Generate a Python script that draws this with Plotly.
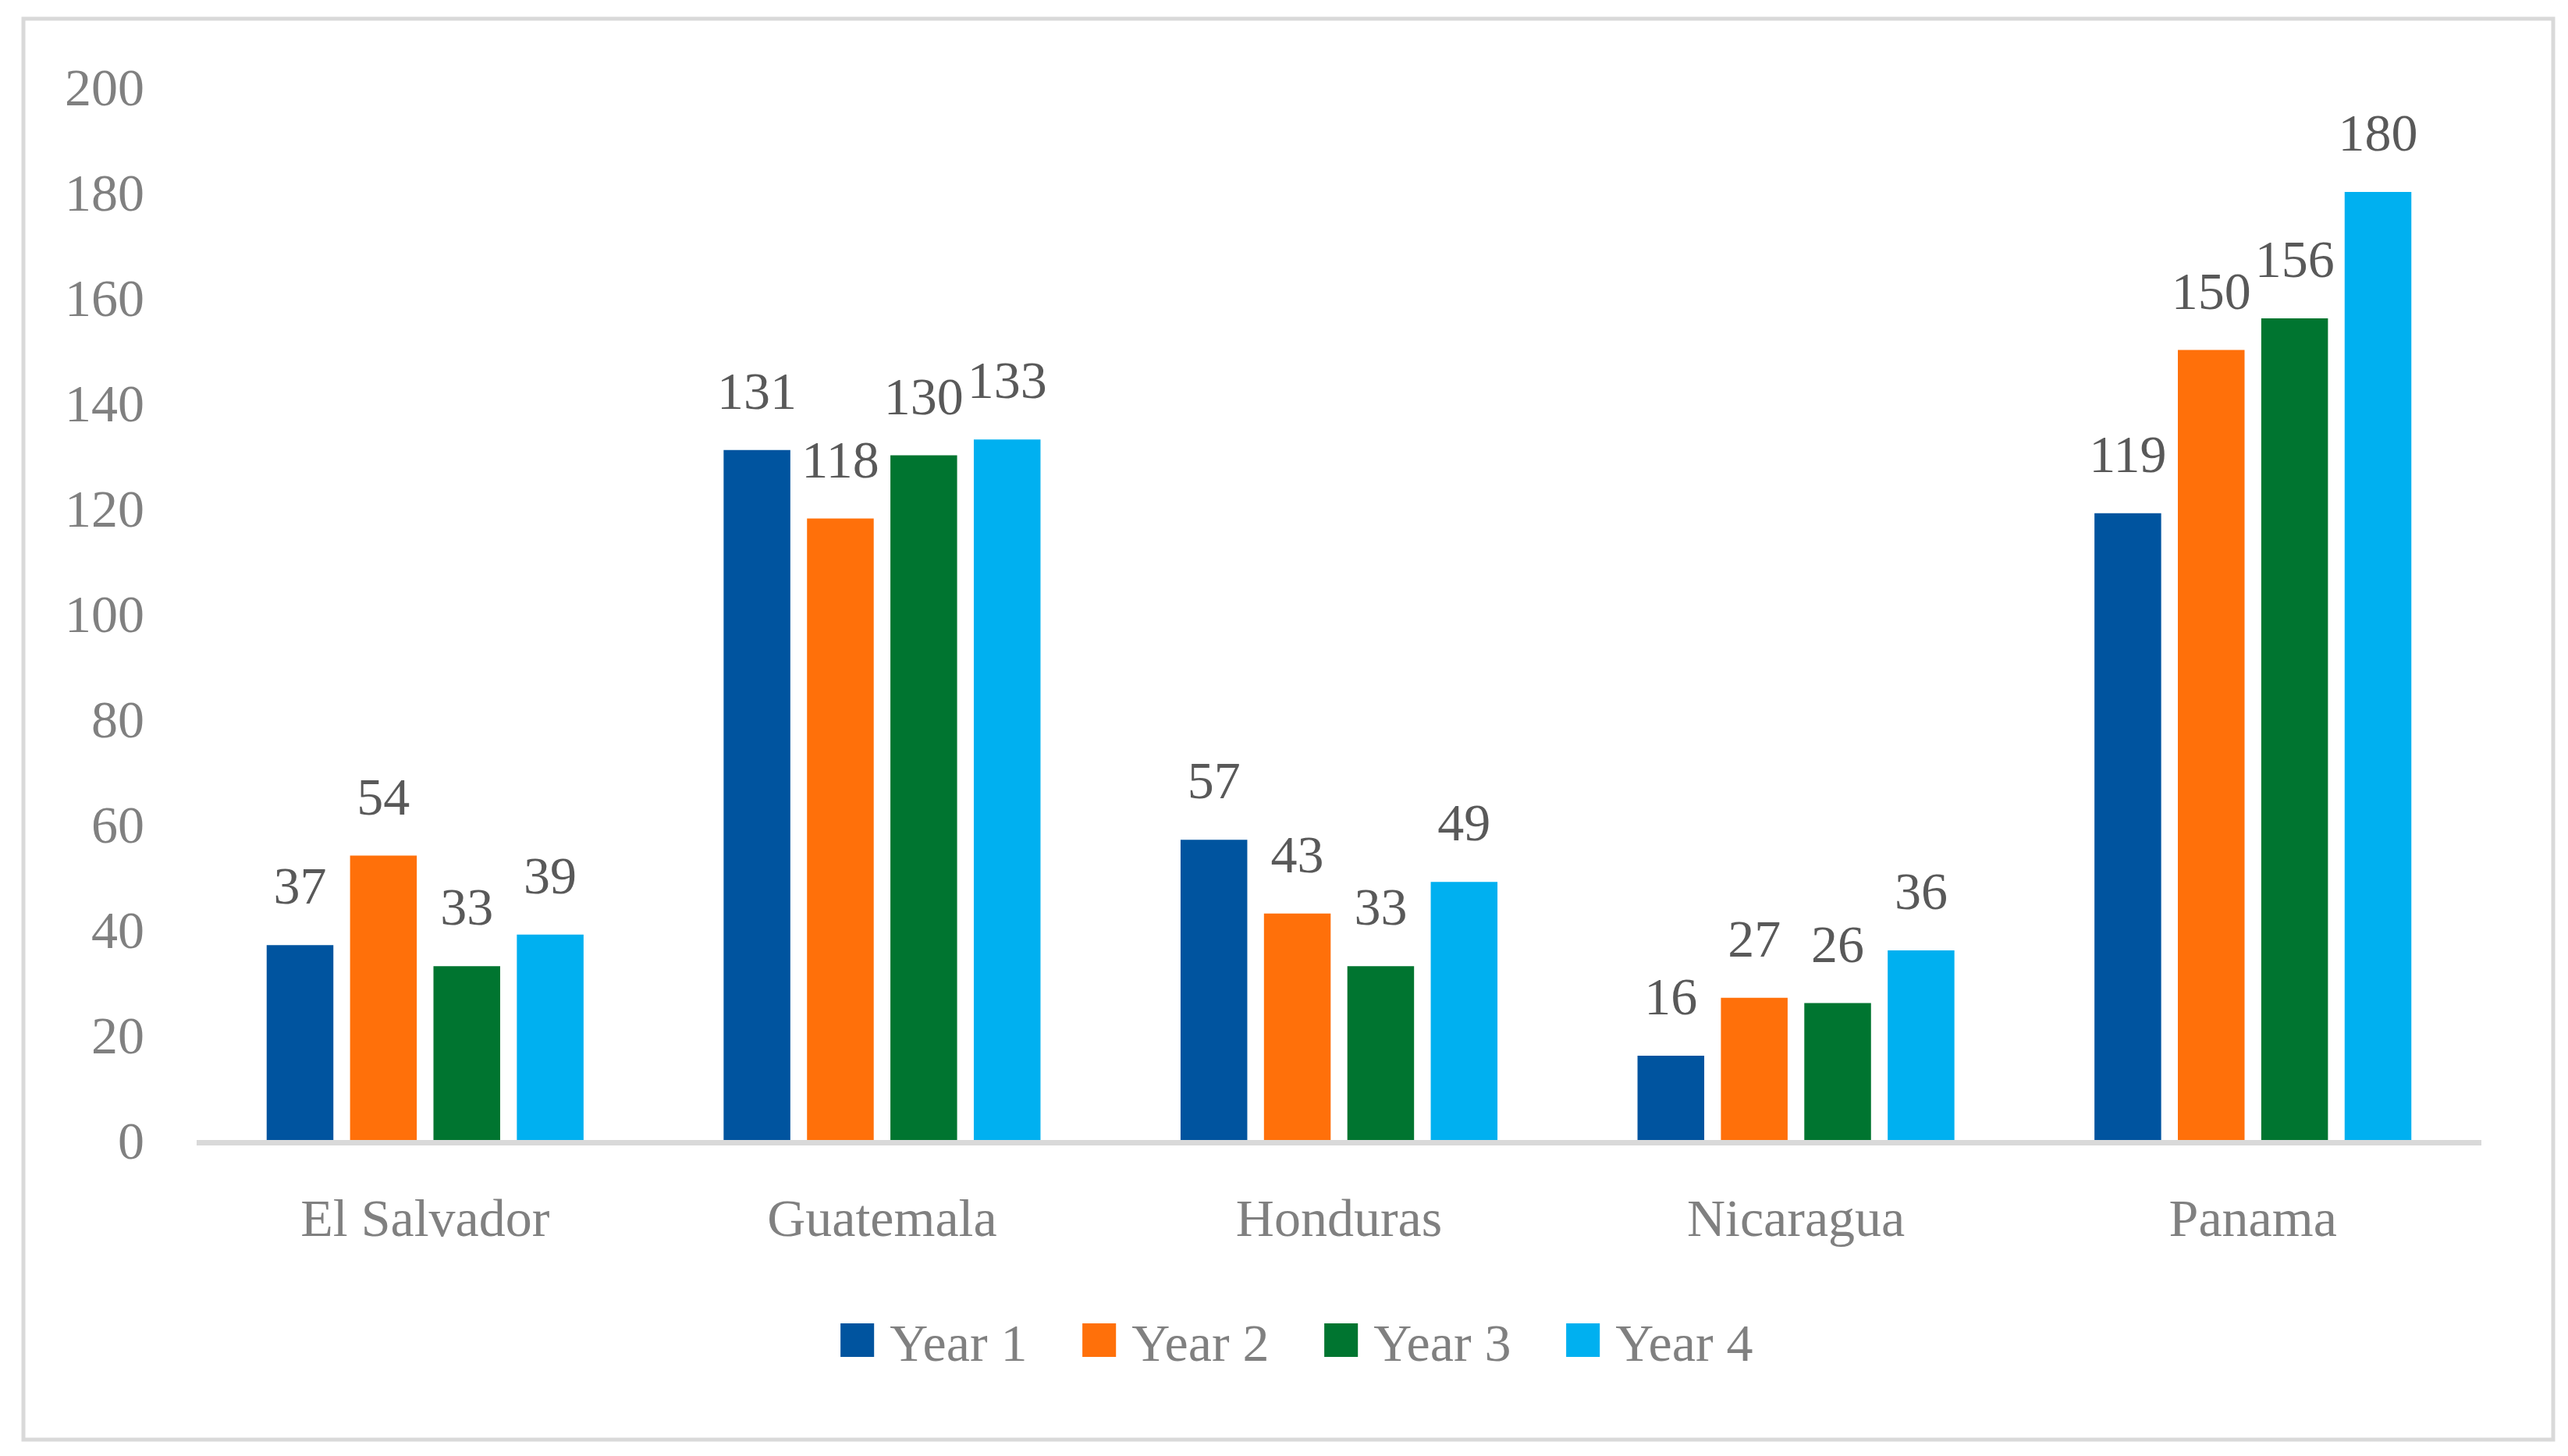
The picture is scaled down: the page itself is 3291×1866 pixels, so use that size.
import plotly.graph_objects as go

# ---- data ----
countries = ["El Salvador", "Guatemala", "Honduras", "Nicaragua", "Panama"]
series_names = ["Year 1", "Year 2", "Year 3", "Year 4"]
year1 = [37, 131, 57, 16, 119]
year2 = [54, 118, 43, 27, 150]
year3 = [33, 130, 33, 26, 156]
year4 = [39, 133, 49, 36, 180]
y_ticks = [0, 20, 40, 60, 80, 100, 120, 140, 160, 180, 200]

series_values = [year1, year2, year3, year4]
colors = ["#00549F", "#FF700A", "#007530", "#00B0F0"]

# ---- layout geometry (pixels, in page coordinates) ----
PAGE_W, PAGE_H = 3291, 1866
BODY = 8  # default body margin of the page
W, H = PAGE_W - 2 * BODY, PAGE_H - 2 * BODY
PLOT_L, PLOT_R, PLOT_T, PLOT_B = 252, 3180, 111, 1461  # plot area on page
ML = PLOT_L - BODY
MT = PLOT_T - BODY
MR = W - (PLOT_R - BODY)
MB = H - (PLOT_B - BODY)
PW = PLOT_R - PLOT_L
PH = PLOT_B - PLOT_T


def px_x(px):
    return (px - PLOT_L) / PW


def px_y(py):
    return (PLOT_B - py) / PH


FONT = "Liberation Serif, serif"
FS = 68

fig = go.Figure()

for i, (name, vals, c) in enumerate(zip(series_names, series_values, colors)):
    fig.add_trace(go.Bar(
        x=countries, y=vals, name=name, marker=dict(color=c, line=dict(width=0)),
        offsetgroup=str(i), showlegend=False, hoverinfo="x+y",
    ))

for i, (name, vals, c) in enumerate(zip(series_names, series_values, colors)):
    # data labels, aligned with the bars through grouped scatter positioning
    fig.add_trace(go.Scatter(
        x=countries, y=vals, mode="markers+text", text=[str(v) for v in vals],
        textposition="top center",
        textfont=dict(family=FONT, size=FS, color="#595959"),
        marker=dict(size=56, opacity=0, color=c),
        offsetgroup=str(i), orientation="v", showlegend=False,
        cliponaxis=False, hoverinfo="skip",
    ))
    # legend entry
    fig.add_trace(go.Scatter(
        x=[None], y=[None], mode="markers",
        marker=dict(opacity=0, color="rgba(0,0,0,0)", size=2, line=dict(width=0)),
        name=f"<span style='color:{c};font-family:Liberation Sans;font-size:89px'>■</span> {name}",
        offsetgroup=str(i), orientation="v", showlegend=True, hoverinfo="skip",
    ))

fig.update_layout(
    width=W, height=H,
    margin=dict(l=ML, r=MR, t=MT, b=MB, pad=0),
    paper_bgcolor="white", plot_bgcolor="white",
    barmode="group", bargap=0.27, bargroupgap=0.2,
    scattermode="group", scattergap=0.27,
    font=dict(family=FONT, size=FS, color="#808080"),
    showlegend=True,
    legend=dict(
        orientation="h", x=px_x(1079 - 47), xanchor="left",
        y=px_y(1718), yanchor="middle",
        font=dict(family=FONT, size=FS, color="#808080"),
        bgcolor="rgba(0,0,0,0)", itemwidth=30,
        entrywidth=265, entrywidthmode="pixels",
        traceorder="normal",
    ),
    xaxis=dict(
        showline=True, linecolor="#D9D9D9", linewidth=7,
        ticks="", showgrid=False, zeroline=False,
        tickfont=dict(family=FONT, size=FS, color="#808080"),
        ticklabelstandoff=34,
    ),
    yaxis=dict(
        range=[0, 200], tickvals=y_ticks, ticktext=[str(t) for t in y_ticks],
        showline=False, showgrid=False, zeroline=False, ticks="",
        tickfont=dict(family=FONT, size=FS, color="#808080"),
        ticklabelstandoff=66,
    ),
    shapes=[dict(
        type="rect", xref="paper", yref="paper",
        x0=px_x(30), x1=px_x(3272), y0=px_y(1845), y1=px_y(24),
        line=dict(color="#D9D9D9", width=5), fillcolor="rgba(0,0,0,0)",
        layer="below",
    )],
)

fig.write_html("out.html")
